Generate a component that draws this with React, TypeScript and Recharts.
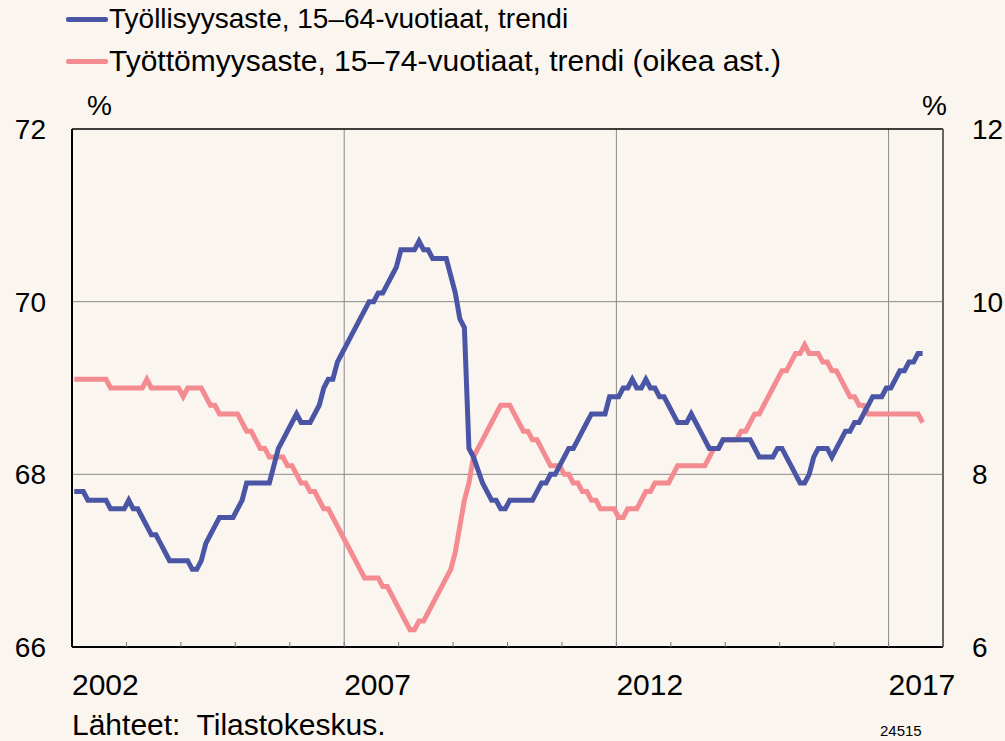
import React from "react";
import { LineChart, Line, XAxis, YAxis, CartesianGrid, ReferenceLine } from "recharts";

// monthly trend, Jan 2002 – Aug 2017
const employmentRate = [
  67.8, 67.8, 67.8, 67.7, 67.7, 67.7, 67.7, 67.7, 67.6, 67.6, 67.6, 67.6, // 2002
  67.7, 67.6, 67.6, 67.5, 67.4, 67.3, 67.3, 67.2, 67.1, 67.0, 67.0, 67.0, // 2003
  67.0, 67.0, 66.9, 66.9, 67.0, 67.2, 67.3, 67.4, 67.5, 67.5, 67.5, 67.5, // 2004
  67.6, 67.7, 67.9, 67.9, 67.9, 67.9, 67.9, 67.9, 68.1, 68.3, 68.4, 68.5, // 2005
  68.6, 68.7, 68.6, 68.6, 68.6, 68.7, 68.8, 69.0, 69.1, 69.1, 69.3, 69.4, // 2006
  69.5, 69.6, 69.7, 69.8, 69.9, 70.0, 70.0, 70.1, 70.1, 70.2, 70.3, 70.4, // 2007
  70.6, 70.6, 70.6, 70.6, 70.7, 70.6, 70.6, 70.5, 70.5, 70.5, 70.5, 70.3, // 2008
  70.1, 69.8, 69.7, 68.3, 68.2, 68.05, 67.9, 67.8, 67.7, 67.7, 67.6, 67.6, // 2009
  67.7, 67.7, 67.7, 67.7, 67.7, 67.7, 67.8, 67.9, 67.9, 68.0, 68.0, 68.1, // 2010
  68.2, 68.3, 68.3, 68.4, 68.5, 68.6, 68.7, 68.7, 68.7, 68.7, 68.9, 68.9, // 2011
  68.9, 69.0, 69.0, 69.1, 69.0, 69.0, 69.1, 69.0, 69.0, 68.9, 68.9, 68.8, // 2012
  68.7, 68.6, 68.6, 68.6, 68.7, 68.6, 68.5, 68.4, 68.3, 68.3, 68.3, 68.4, // 2013
  68.4, 68.4, 68.4, 68.4, 68.4, 68.4, 68.3, 68.2, 68.2, 68.2, 68.2, 68.3, // 2014
  68.3, 68.2, 68.1, 68.0, 67.9, 67.9, 68.0, 68.2, 68.3, 68.3, 68.3, 68.2, // 2015
  68.3, 68.4, 68.5, 68.5, 68.6, 68.6, 68.7, 68.8, 68.9, 68.9, 68.9, 69.0, // 2016
  69.0, 69.1, 69.2, 69.2, 69.3, 69.3, 69.4, 69.4, // 2017
];

const unemploymentRate = [
  9.1, 9.1, 9.1, 9.1, 9.1, 9.1, 9.1, 9.1, 9.0, 9.0, 9.0, 9.0, // 2002
  9.0, 9.0, 9.0, 9.0, 9.1, 9.0, 9.0, 9.0, 9.0, 9.0, 9.0, 9.0, // 2003
  8.9, 9.0, 9.0, 9.0, 9.0, 8.9, 8.8, 8.8, 8.7, 8.7, 8.7, 8.7, // 2004
  8.7, 8.6, 8.5, 8.5, 8.4, 8.3, 8.3, 8.2, 8.2, 8.2, 8.2, 8.1, // 2005
  8.1, 8.0, 7.9, 7.9, 7.8, 7.8, 7.7, 7.6, 7.6, 7.5, 7.4, 7.3, // 2006
  7.2, 7.1, 7.0, 6.9, 6.8, 6.8, 6.8, 6.8, 6.7, 6.7, 6.6, 6.5, // 2007
  6.4, 6.3, 6.2, 6.2, 6.3, 6.3, 6.4, 6.5, 6.6, 6.7, 6.8, 6.9, // 2008
  7.1, 7.4, 7.7, 7.9, 8.2, 8.3, 8.4, 8.5, 8.6, 8.7, 8.8, 8.8, // 2009
  8.8, 8.7, 8.6, 8.5, 8.5, 8.4, 8.4, 8.3, 8.2, 8.1, 8.1, 8.1, // 2010
  8.0, 8.0, 7.9, 7.9, 7.8, 7.8, 7.7, 7.7, 7.6, 7.6, 7.6, 7.6, // 2011
  7.5, 7.5, 7.6, 7.6, 7.6, 7.7, 7.8, 7.8, 7.9, 7.9, 7.9, 7.9, // 2012
  8.0, 8.1, 8.1, 8.1, 8.1, 8.1, 8.1, 8.1, 8.2, 8.3, 8.3, 8.4, // 2013
  8.4, 8.4, 8.4, 8.5, 8.5, 8.6, 8.7, 8.7, 8.8, 8.9, 9.0, 9.1, // 2014
  9.2, 9.2, 9.3, 9.4, 9.4, 9.5, 9.4, 9.4, 9.4, 9.3, 9.3, 9.2, // 2015
  9.2, 9.1, 9.0, 8.9, 8.9, 8.8, 8.8, 8.7, 8.7, 8.7, 8.7, 8.7, // 2016
  8.7, 8.7, 8.7, 8.7, 8.7, 8.7, 8.7, 8.6, // 2017
];

const START_YEAR = 2002;
const yearTicks = [2002, 2003, 2004, 2005, 2006, 2007, 2008, 2009, 2010, 2011, 2012, 2013, 2014, 2015, 2016, 2017, 2018];
const labelYears = [2002, 2007, 2012, 2017];
const gridYears = [2007, 2012, 2017];
const leftTicks = [66, 68, 70, 72];
const rightTicks = [6, 8, 10, 12];
const leftGrid = [68, 70];

const BLUE = "#4B55A5";
const PINK = "#F38B91";
const BG = "#FAF5EF";
const FONT = "Arial, 'Liberation Sans', sans-serif";
const PLOT_BOTTOM = 647;

// month i plotted in the middle of its month
const data = employmentRate.map((v, i) => ({
  t: START_YEAR + (i + 0.5) / 12,
  emp: v,
  unemp: unemploymentRate[i],
}));

const YearTick = (props: any) => {
  const { x, payload } = props;
  const year = payload.value;
  return (
    <g>
      {year > START_YEAR && year < 2018 && (
        <line x1={x} x2={x} y1={PLOT_BOTTOM} y2={PLOT_BOTTOM - 5} stroke="#777" strokeWidth={1} />
      )}
      {labelYears.includes(year) && (
        <text x={x} y={695} textAnchor="start" fontSize={30} fill="#000" fontFamily={FONT}>
          {year}
        </text>
      )}
    </g>
  );
};

const LegendItem = ({ color, label, top, size }: { color: string; label: string; top: number; size: number }) => (
  <div style={{ position: "absolute", left: 66, top, display: "flex", alignItems: "center", whiteSpace: "nowrap" }}>
    <div style={{ width: 42, height: 5, background: color, borderRadius: 2 }} />
    <span style={{ fontSize: size, marginLeft: 1 }}>{label}</span>
  </div>
);

export default function App() {
  return (
    <div style={{ position: "absolute", left: 0, top: 0, width: 1005, height: 741, background: BG, fontFamily: FONT, color: "#000" }}>
      <LegendItem color={BLUE} label="Työllisyysaste, 15–64-vuotiaat, trendi" top={3} size={28} />
      <LegendItem color={PINK} label="Työttömyysaste, 15–74-vuotiaat, trendi (oikea ast.)" top={44} size={30} />
      <div style={{ position: "absolute", left: 87, top: 90, fontSize: 28 }}>%</div>
      <div style={{ position: "absolute", left: 922, top: 90, fontSize: 28 }}>%</div>
      <div style={{ position: "absolute", left: 72, top: 708, fontSize: 30 }}>Lähteet:&nbsp; Tilastokeskus.</div>
      <div style={{ position: "absolute", left: 880, top: 722, fontSize: 15 }}>24515</div>

      <div style={{ position: "absolute", left: 0, top: 0 }}>
        <LineChart width={1005} height={741} data={data} margin={{ top: 129, right: 0, bottom: 0, left: 0 }}>
          <CartesianGrid
            yAxisId="left"
            horizontalValues={leftGrid}
            verticalValues={gridYears}
            stroke="#8a8a8a"
            strokeWidth={1}
          />
          <XAxis
            dataKey="t"
            type="number"
            domain={[2002, 2018]}
            ticks={yearTicks}
            height={94}
            axisLine={{ stroke: "#000", strokeWidth: 2 }}
            tickLine={false}
            tick={<YearTick />}
            interval={0}
          />
          <YAxis
            yAxisId="left"
            domain={[66, 72]}
            ticks={leftTicks}
            width={72}
            tickSize={0}
            tickMargin={26}
            tickLine={false}
            axisLine={{ stroke: "#000", strokeWidth: 2 }}
            tick={{ fontSize: 28, fill: "#000", fontFamily: FONT }}
          />
          <YAxis
            yAxisId="right"
            orientation="right"
            domain={[6, 12]}
            ticks={rightTicks}
            width={62}
            tickSize={0}
            tickMargin={29}
            tickLine={false}
            axisLine={{ stroke: "#666", strokeWidth: 2 }}
            tick={{ fontSize: 28, fill: "#000", fontFamily: FONT }}
          />
          <ReferenceLine yAxisId="left" y={72} stroke="#000" strokeWidth={1.5} />
          <Line
            yAxisId="right"
            dataKey="unemp"
            type="linear"
            stroke={PINK}
            strokeWidth={5}
            dot={false}
            isAnimationActive={false}
          />
          <Line
            yAxisId="left"
            dataKey="emp"
            type="linear"
            stroke={BLUE}
            strokeWidth={5}
            dot={false}
            isAnimationActive={false}
          />
        </LineChart>
      </div>
    </div>
  );
}
